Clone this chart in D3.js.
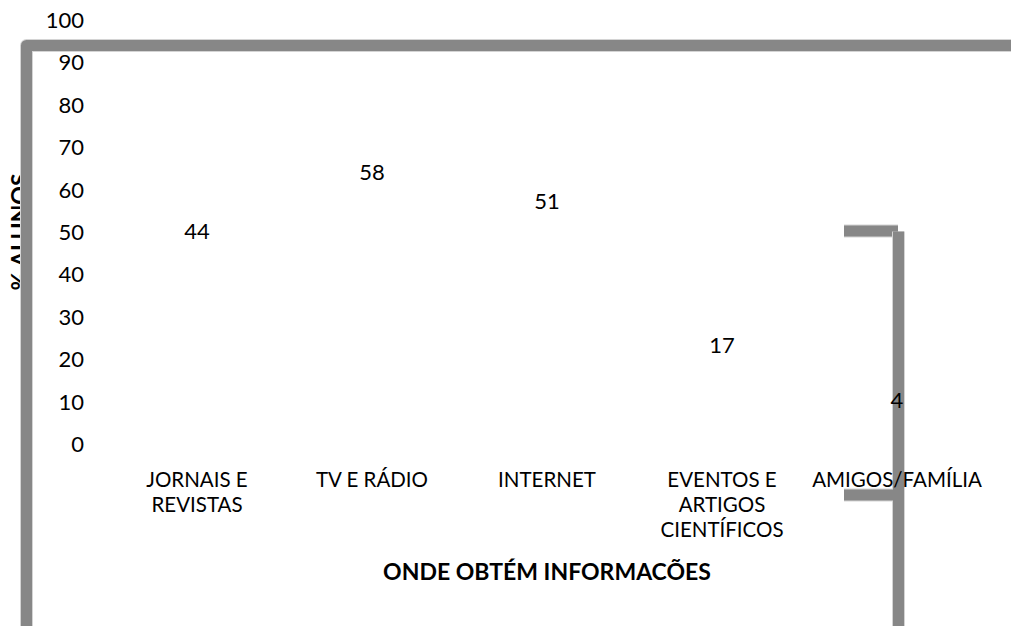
<!DOCTYPE html>
<html>
<head>
<meta charset="utf-8">
<script src="https://cdn.jsdelivr.net/npm/d3@7"></script>
<style>
  body { margin: 0; background: #fff; }
  svg { display: block; font-family: Lato, 'Open Sans', sans-serif; }
  .tick-label, .data-label { font-size: 22px; fill: #000; }
  .cat-label { font-size: 20.5px; fill: #000; }
  .axis-title { font-size: 23px; font-weight: bold; fill: #000; }
</style>
</head>
<body>
<svg id="chart" width="1011" height="626"></svg>
<script>
const categories = ['JORNAIS E REVISTAS', 'TV E RÁDIO', 'INTERNET', 'EVENTOS E ARTIGOS CIENTÍFICOS', 'AMIGOS/FAMÍLIA'];
const categoryLines = [['JORNAIS E', 'REVISTAS'], ['TV E RÁDIO'], ['INTERNET'], ['EVENTOS E', 'ARTIGOS', 'CIENTÍFICOS'], ['AMIGOS/FAMÍLIA']];
const values = [44, 58, 51, 17, 4];
const yTicks = [0, 10, 20, 30, 40, 50, 60, 70, 80, 90, 100];
const xTitle = 'ONDE OBTÉM INFORMACÕES';
const yTitle = '% ALUNOS';

const width = 1011, height = 626;
const svg = d3.select('#chart');

const xScale = d3.scaleBand()
  .domain(categories)
  .range([109.5, 984.5])
  .padding(0);

const yScale = d3.scaleLinear()
  .domain([0, 100])
  .range([443.5, 19.5]);

// stray grey frame lines from the original rendering
const frameColor = '#878787';
const edgeColor = '#d4d4d4';

function frameLine(d, join) {
  svg.append('path').attr('d', d).attr('fill', 'none')
    .attr('stroke', edgeColor).attr('stroke-width', 13)
    .attr('stroke-linejoin', join || 'miter');
  svg.append('path').attr('d', d).attr('fill', 'none')
    .attr('stroke', frameColor).attr('stroke-width', 11)
    .attr('stroke-linejoin', join || 'miter');
}

// right bracket sits under the labels
const lastX = xScale(categories[4]) + xScale.bandwidth() / 2 + 1.5;
frameLine(`M844,${yScale(50) - 0.5} H${lastX - 0.5}`);
frameLine(`M${lastX},${yScale(50)} V${height}`);
frameLine(`M844,495 H${lastX - 5.5}`);

// y axis labels only, no line or ticks
const yAxis = svg.append('g')
  .attr('transform', 'translate(84, 0)')
  .call(d3.axisLeft(yScale).tickValues(yTicks).tickSize(0).tickPadding(0));
yAxis.select('.domain').remove();
yAxis.selectAll('text')
  .attr('class', 'tick-label')
  .attr('dy', '0.36em');
yAxis.attr('font-size', null).attr('font-family', null);

// bars are blank in the original, kept as white rects
svg.selectAll('.bar')
  .data(values)
  .enter()
  .append('rect')
  .attr('class', 'bar')
  .attr('x', (d, i) => xScale(categories[i]) + xScale.bandwidth() * 0.3)
  .attr('y', d => yScale(d))
  .attr('width', xScale.bandwidth() * 0.4)
  .attr('height', d => yScale(0) - yScale(d))
  .attr('fill', 'none');

svg.selectAll('.data-label')
  .data(values)
  .enter()
  .append('text')
  .attr('class', 'data-label')
  .attr('text-anchor', 'middle')
  .attr('x', (d, i) => xScale(categories[i]) + xScale.bandwidth() / 2)
  .attr('y', d => yScale(d) - 26)
  .attr('dy', '0.36em')
  .text(d => d);

// category labels, wrapped
const cats = svg.selectAll('.cat-label')
  .data(categoryLines)
  .enter()
  .append('text')
  .attr('class', 'cat-label')
  .attr('text-anchor', 'middle')
  .attr('x', (d, i) => xScale(categories[i]) + xScale.bandwidth() / 2)
  .attr('y', 486.5);
cats.selectAll('tspan')
  .data(d => d)
  .enter()
  .append('tspan')
  .attr('x', function () { return this.parentNode.getAttribute('x'); })
  .attr('dy', (d, i) => i === 0 ? 0 : 25)
  .text(d => d);

svg.append('text')
  .attr('class', 'axis-title')
  .attr('text-anchor', 'middle')
  .attr('x', (xScale.range()[0] + xScale.range()[1]) / 2)
  .attr('y', 580)
  .text(xTitle);

svg.append('text')
  .attr('class', 'axis-title')
  .attr('text-anchor', 'middle')
  .attr('transform', 'translate(28, 232) rotate(-90)')
  .text(yTitle);

// left/top frame covers the y title
frameLine(`M26.5,${height} V45.5 H${width}`, 'round');
</script>
</body>
</html>
